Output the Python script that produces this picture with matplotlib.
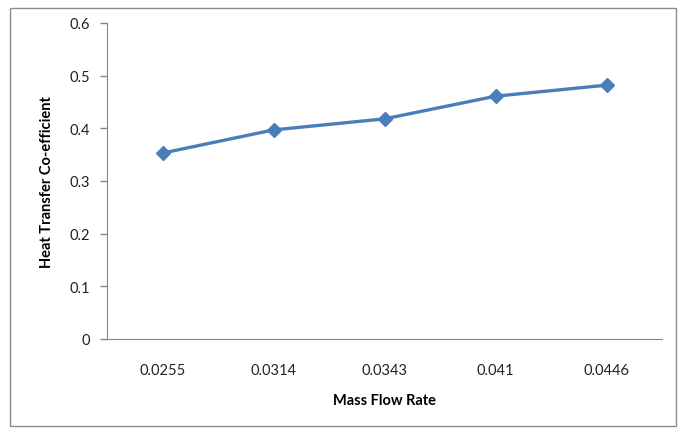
import matplotlib.pyplot as plt
from matplotlib.patches import Rectangle

# mass flow rate categories and heat transfer coefficient values
flow_rates = ["0.0255", "0.0314", "0.0343", "0.041", "0.0446"]
htc = [0.353, 0.397, 0.418, 0.461, 0.482]
y_ticks = [0, 0.1, 0.2, 0.3, 0.4, 0.5, 0.6]

plt.rcParams['font.family'] = ['Lato', 'DejaVu Sans']

fig = plt.figure(figsize=(6.84, 4.35), dpi=100)
ax = fig.add_axes([107/684, 95/435, 555/684, 316/435])

# outer chart frame
fig.patches.append(Rectangle((10/684, 8/435), 666/684, 418/435, transform=fig.transFigure,
                             fill=False, edgecolor='#8c8c8c', linewidth=1))

x = list(range(len(flow_rates)))
ax.plot(x, htc, color='#4a7ebb', linewidth=2.4, marker='D', markersize=7,
        markerfacecolor='#4a7ebb', markeredgecolor='#4a7ebb')

ax.set_xlim(-0.5, len(flow_rates) - 0.5)
ax.set_ylim(0, 0.6)
ax.set_xticks(x)
ax.set_xticklabels(flow_rates)
ax.set_yticks(y_ticks)
ax.set_yticklabels(['0', '0.1', '0.2', '0.3', '0.4', '0.5', '0.6'])

for s in ['top', 'right']:
    ax.spines[s].set_visible(False)
ax.spines['left'].set_color('#868686')
ax.spines['bottom'].set_color('#868686')
ax.tick_params(axis='x', length=0, pad=17, labelsize=10.5, colors='#222222')
ax.tick_params(axis='y', length=5, width=1, color='#868686', pad=7, labelsize=10.5, labelcolor='#222222')

ax.set_xlabel('Mass Flow Rate', fontsize=10.5, fontweight='bold', labelpad=12)
ax.set_ylabel('Heat Transfer Co-efficient', fontsize=10.5, fontweight='bold', labelpad=11)

fig.savefig('out.png', dpi=100)
